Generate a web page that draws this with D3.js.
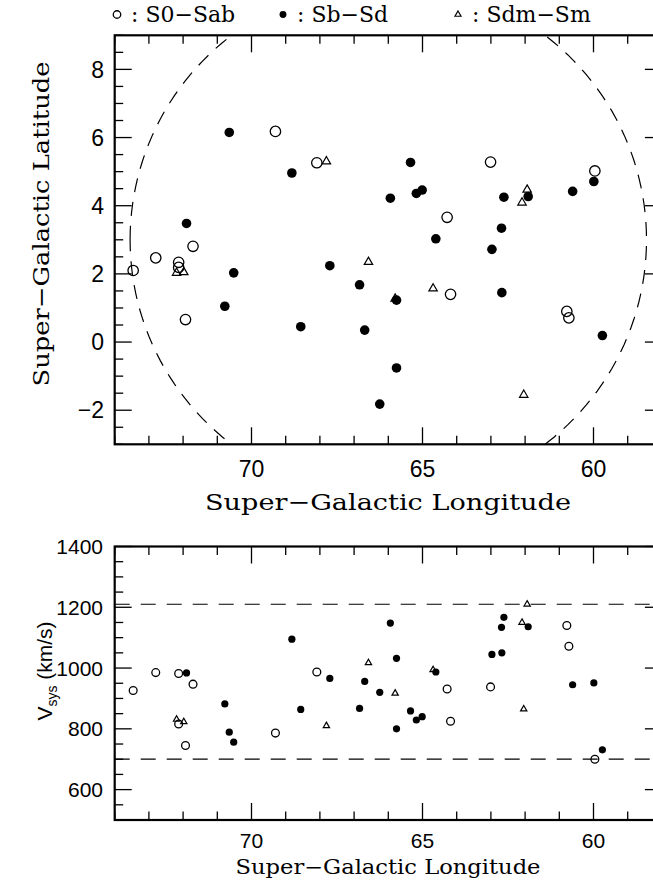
<!DOCTYPE html>
<html>
<head>
<meta charset="utf-8">
<script src="https://cdn.jsdelivr.net/npm/d3@7"></script>
<style>
  body { margin: 0; background: #fff; }
  svg { display: block; }
</style>
</head>
<body>
<svg id="chart" width="653" height="883"></svg>
<script>
// S0-Sab (open circles)
const s0_lon = [69.30, 68.09, 71.71, 72.80, 73.46, 72.13, 72.13, 71.93, 63.01, 59.96, 64.28, 64.18, 60.78, 60.72];
const s0_lat = [6.18, 5.26, 2.81, 2.47, 2.10, 2.34, 2.19, 0.66, 5.28, 5.02, 3.66, 1.40, 0.90, 0.71];
const s0_vel = [786, 987, 947, 985, 926, 982, 816, 745, 938, 700, 931, 825, 1140, 1072];

// Sb-Sd (filled circles)
const sb_lon = [70.65, 70.52, 70.78, 71.90, 68.82, 68.56, 67.71, 66.84, 66.69, 66.25, 65.94, 65.76, 65.76,
                65.35, 65.18, 65.01, 64.61, 62.97, 62.68, 62.62, 62.69, 61.91, 60.61, 59.99, 59.74];
const sb_lat = [6.15, 2.03, 1.05, 3.48, 4.96, 0.45, 2.24, 1.68, 0.35, -1.82, 4.22, 1.23, -0.76,
                5.27, 4.36, 4.46, 3.03, 2.72, 1.45, 4.25, 3.34, 4.27, 4.42, 4.71, 0.19];
const sb_vel = [789, 756, 882, 984, 1095, 864, 966, 867, 956, 920, 1148, 1032, 800,
                859, 829, 840, 987, 1045, 1050, 1167, 1134, 1136, 945, 951, 731];

// Sdm-Sm (triangles)
const sdm_lon = [67.81, 72.19, 71.98, 66.58, 61.94, 62.09, 64.69, 65.80, 62.04];
const sdm_lat = [5.30, 2.03, 2.05, 2.35, 4.47, 4.09, 1.57, 1.27, -1.55];
const sdm_vel = [810, 831, 823, 1017, 1210, 1150, 994, 917, 865];

const lon_ticks = [70, 65, 60];
const lat_ticks = [8, 6, 4, 2, 0, -2];
const vel_ticks = [1400, 1200, 1000, 800, 600];
const vel_limits = [1210, 700];
const region_center = [66.0, 3.0];
const region_radius = 7.55;
const legend_labels = ['S0\u2212Sab', 'Sb\u2212Sd', 'Sdm\u2212Sm'];

const svg = d3.select('#chart');
const serif = '"DejaVu Serif", serif';
const sans = '"Liberation Sans", Arial, sans-serif';

const x = d3.scaleLinear().domain([74, 58]).range([114.7, 114.7 + 16 * 34.2]);
const y_top = d3.scaleLinear().domain([-3, 9]).range([444.3, 35.3]);
const y_bot = d3.scaleLinear().domain([500, 1400]).range([820, 546.5]);

function draw_frame(g, xs, ys, x_minor, x_major, y_minor, y_major) {
    const [xa, xb] = xs.range();
    const [ya, yb] = ys.range();
    const big = 17, small = 8.5;
    x_minor.forEach(t => {
        const len = x_major.includes(t) ? big : small;
        g.append('line').attr('x1', xs(t)).attr('x2', xs(t)).attr('y1', ya).attr('y2', ya - len);
        g.append('line').attr('x1', xs(t)).attr('x2', xs(t)).attr('y1', yb).attr('y2', yb + len);
    });
    y_minor.forEach(t => {
        const len = y_major.includes(t) ? big : small;
        g.append('line').attr('y1', ys(t)).attr('y2', ys(t)).attr('x1', xa).attr('x2', xa + len);
        g.append('line').attr('y1', ys(t)).attr('y2', ys(t)).attr('x1', xb).attr('x2', xb - len);
    });
    g.selectAll('line').attr('stroke', '#000').attr('stroke-width', 1.3);
    g.append('rect')
        .attr('x', xa).attr('y', yb)
        .attr('width', xb - xa).attr('height', ya - yb)
        .attr('fill', 'none').attr('stroke', '#000').attr('stroke-width', 2.2);
}

function draw_points(g, xs, ys, lons, vals, kind, scale) {
    const pts = lons.map((l, i) => [xs(l), ys(vals[i])]);
    if (kind === 'open') {
        g.selectAll(null).data(pts).join('circle')
            .attr('cx', d => d[0]).attr('cy', d => d[1]).attr('r', 5.2 * scale)
            .attr('fill', 'none').attr('stroke', '#000').attr('stroke-width', 1.3);
    } else if (kind === 'filled') {
        g.selectAll(null).data(pts).join('circle')
            .attr('cx', d => d[0]).attr('cy', d => d[1]).attr('r', 4.8 * scale)
            .attr('fill', '#000');
    } else {
        const side = 8.4 * scale;
        const sym = d3.symbol().type(d3.symbolTriangle).size(Math.sqrt(3) / 4 * side * side);
        g.selectAll(null).data(pts).join('path')
            .attr('transform', d => `translate(${d[0]},${d[1]})`)
            .attr('d', sym())
            .attr('fill', 'none').attr('stroke', '#000').attr('stroke-width', 1.2);
    }
}

const lon_minor = d3.range(58, 74.01, 1);

// ---- top panel: sky positions
const sky = svg.append('g');
svg.append('clipPath').attr('id', 'clip-top').append('rect')
    .attr('x', x.range()[0]).attr('y', y_top.range()[1])
    .attr('width', x.range()[1] - x.range()[0]).attr('height', y_top.range()[0] - y_top.range()[1]);

const ring = d3.range(0, 361, 2).map(a => [
    region_center[0] + region_radius * Math.cos(a * Math.PI / 180),
    region_center[1] + region_radius * Math.sin(a * Math.PI / 180),
]);
sky.append('path')
    .attr('clip-path', 'url(#clip-top)')
    .attr('d', d3.line().x(d => x(d[0])).y(d => y_top(d[1]))(ring))
    .attr('fill', 'none').attr('stroke', '#000').attr('stroke-width', 1.2)
    .attr('stroke-dasharray', '14,10');

draw_points(sky, x, y_top, s0_lon, s0_lat, 'open', 1);
draw_points(sky, x, y_top, sb_lon, sb_lat, 'filled', 1);
draw_points(sky, x, y_top, sdm_lon, sdm_lat, 'tri', 1);
draw_frame(sky.append('g'), x, y_top, lon_minor, lon_ticks, d3.range(-3, 9.01, 0.5), lat_ticks);

sky.selectAll(null).data(lon_ticks).join('text')
    .attr('x', d => x(d)).attr('y', 477)
    .attr('text-anchor', 'middle').attr('font-family', sans).attr('font-size', 23)
    .text(d => d);
sky.selectAll(null).data(lat_ticks).join('text')
    .attr('x', 104).attr('y', d => y_top(d)).attr('dy', '0.36em')
    .attr('text-anchor', 'end').attr('font-family', sans).attr('font-size', 23)
    .text(d => d < 0 ? '\u2212' + Math.abs(d) : d);
sky.append('text')
    .attr('x', 388).attr('y', 510).attr('text-anchor', 'middle')
    .attr('font-family', serif).attr('font-size', 23)
    .attr('textLength', 366).attr('lengthAdjust', 'spacingAndGlyphs')
    .text('Super\u2212Galactic Longitude');
sky.append('text')
    .attr('transform', 'translate(49,224) rotate(-90)').attr('text-anchor', 'middle')
    .attr('font-family', serif).attr('font-size', 23)
    .attr('textLength', 325).attr('lengthAdjust', 'spacingAndGlyphs')
    .text('Super\u2212Galactic Latitude');

// ---- legend
const legend = svg.append('g');
const legend_x = [117, 283, 458];
legend_x.forEach((lx, i) => {
    const mark = legend.append('g');
    const kind = ['open', 'filled', 'tri'][i];
    draw_points(mark, d3.scaleIdentity(), d3.scaleIdentity(), [lx], [14.5], kind, 0.72);
    legend.append('text')
        .attr('x', lx + 14).attr('y', 22)
        .attr('font-family', serif).attr('font-size', 22)
        .text(': ' + legend_labels[i]);
});

// ---- bottom panel: velocities
const vel = svg.append('g');
vel.selectAll(null).data(vel_limits).join('line')
    .attr('x1', x.range()[0]).attr('x2', x.range()[1])
    .attr('y1', d => y_bot(d)).attr('y2', d => y_bot(d))
    .attr('stroke', '#000').attr('stroke-width', 1.2).attr('stroke-dasharray', '15,11');

draw_points(vel, x, y_bot, s0_lon, s0_vel, 'open', 0.75);
draw_points(vel, x, y_bot, sb_lon, sb_vel, 'filled', 0.75);
draw_points(vel, x, y_bot, sdm_lon, sdm_vel, 'tri', 0.75);
draw_frame(vel.append('g'), x, y_bot, lon_minor, lon_ticks, d3.range(500, 1400.1, 50), vel_ticks);

vel.selectAll(null).data(lon_ticks).join('text')
    .attr('x', d => x(d)).attr('y', 848)
    .attr('text-anchor', 'middle').attr('font-family', sans).attr('font-size', 21)
    .text(d => d);
vel.selectAll(null).data(vel_ticks).join('text')
    .attr('x', 103).attr('y', d => y_bot(d)).attr('dy', '0.36em')
    .attr('text-anchor', 'end').attr('font-family', sans).attr('font-size', 21)
    .text(d => d);
vel.append('text')
    .attr('x', 388).attr('y', 874).attr('text-anchor', 'middle')
    .attr('font-family', serif).attr('font-size', 20)
    .attr('textLength', 305).attr('lengthAdjust', 'spacingAndGlyphs')
    .text('Super\u2212Galactic Longitude');
const vlab = vel.append('text')
    .attr('transform', 'translate(52,671) rotate(-90)').attr('text-anchor', 'middle')
    .attr('font-family', sans).attr('font-size', 21);
vlab.append('tspan').text('V');
vlab.append('tspan').attr('font-size', 14).attr('dy', 5).text('sys');
vlab.append('tspan').attr('dy', -5).text(' (km/s)');
</script>
</body>
</html>
